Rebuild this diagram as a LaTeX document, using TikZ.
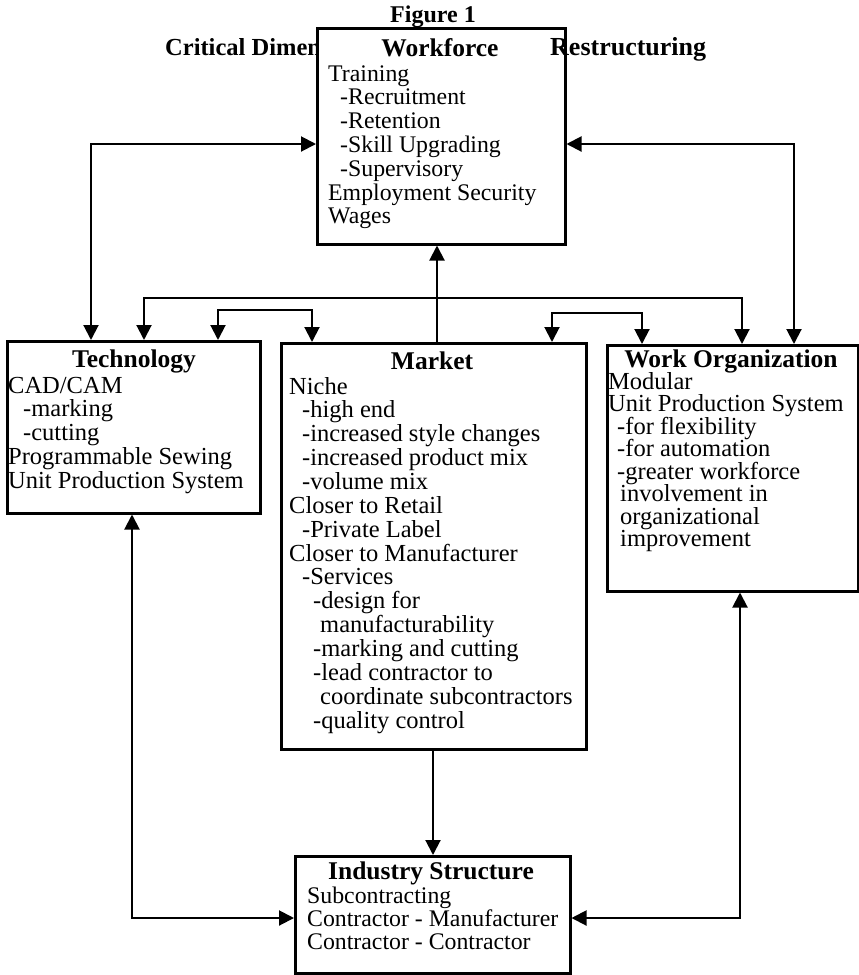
\documentclass[tikz,border=0pt]{standalone}
\usepackage{fontspec}
\setmainfont{Liberation Serif}
\usetikzlibrary{arrows.meta}
\begin{document}
\begin{tikzpicture}[x=1pt,y=-1pt,
  >={Triangle[length=15pt,width=15pt]},
  box/.style={draw, line width=2.5pt, fill=white, rectangle, inner sep=0pt, anchor=north west},
  link/.style={line width=2pt},
  head/.style={font=\fontsize{25.5pt}{26pt}\selectfont\bfseries, inner sep=0pt, anchor=base},
  txt/.style={font=\fontsize{24.5pt}{24pt}\selectfont, inner sep=0pt, anchor=base west},
  stxt/.style={font=\fontsize{23.8pt}{24pt}\selectfont, inner sep=0pt, anchor=base west},
  ttl/.style={font=\fontsize{26pt}{27pt}\selectfont\bfseries, inner sep=0pt}
]
\useasboundingbox (0,0) rectangle (859,975);

% titles
\node[ttl, font=\fontsize{24pt}{25pt}\selectfont\bfseries, anchor=base] (fig) at (433,22) {Figure 1};
\node[ttl, font=\fontsize{24.5pt}{25pt}\selectfont\bfseries, anchor=base west] (crit) at (165,55) {Critical Dimen};

% boxes
\node[box, minimum width=248pt, minimum height=216pt] (wf) at (316,27) {};
\node[box, minimum width=253pt, minimum height=172pt] (tech) at (6,340) {};
\node[box, minimum width=305pt, minimum height=406pt] (mk) at (280,342) {};
\node[box, minimum width=251pt, minimum height=246pt] (wo) at (606,344) {};
\node[box, minimum width=275pt, minimum height=117pt] (is) at (294,855) {};

\node[ttl, anchor=base west] (restr) at (550,55) {Restructuring};

% connector points
\coordinate (cL) at (91,144);
\coordinate (cR) at (794,144);
\coordinate (h1) at (144,298);
\coordinate (h2) at (742,298);
\coordinate (b1) at (218,310);
\coordinate (b1r) at (312,310);
\coordinate (b2) at (552,313);
\coordinate (b2r) at (642,313);
\coordinate (vt) at (437,300);
\coordinate (vb) at (433,800);
\coordinate (lb) at (132,918);
\coordinate (rb) at (740,918);

\draw[link,<->] (tech.north -| cL) |- (wf.west |- cL);
\draw[link,<->] (wo.north -| cR) |- (wf.east |- cR);
\draw[link,<->] (tech.north -| h1) |- (h2) -- (wo.north -| h2);
\draw[link,<->] (tech.north -| b1) |- (b1r) -- (mk.north -| b1r);
\draw[link,<->] (mk.north -| b2) |- (b2r) -- (wo.north -| b2r);
\draw[link,->] (mk.north -| vt) -- (wf.south -| vt);
\draw[link,->] (mk.south -| vb) -- (is.north -| vb);
\draw[link,<->] (tech.south -| lb) |- (is.west |- lb);
\draw[link,<->] (wo.south -| rb) |- (is.east |- rb);

% Workforce
\node[head] (wfh) at (440,56) {Workforce};
\foreach \x/\t [count=\i] in {328/Training, 340/-Recruitment, 340/-Retention, 340/-Skill Upgrading, 340/-Supervisory, 328/Employment Security, 328/Wages}
  \node[stxt] (wf\i) at (\x, {81+23.8*(\i-1)}) {\t};

% Technology
\node[head] (tch) at (134,367) {Technology};
\foreach \x/\t [count=\i] in {8/{CAD/CAM}, 23/-marking, 23/-cutting, 8/Programmable Sewing, 8/Unit Production System}
  \node[txt] (tc\i) at (\x, {393+23.75*(\i-1)}) {\t};

% Market
\node[head] (mkh) at (432,369) {Market};
\foreach \x/\t [count=\i] in {289/Niche, 302/-high end, 302/-increased style changes, 302/-increased product mix, 302/-volume mix, 289/Closer to Retail, 302/-Private Label, 289/Closer to Manufacturer, 302/-Services, 313/-design for, 320/manufacturability, 313/-marking and cutting, 313/-lead contractor to, 320/coordinate subcontractors, 313/-quality control}
  \node[txt] (mk\i) at (\x, {394+23.86*(\i-1)}) {\t};

% Work Organization
\node[head] (woh) at (731,367) {Work Organization};
\foreach \x/\t [count=\i] in {608/Modular, 608/Unit Production System, 617/-for flexibility, 617/-for automation, 617/-greater workforce, 620/involvement in, 620/organizational, 620/improvement}
  \node[txt] (wo\i) at (\x, {389+22.5*(\i-1)}) {\t};

% Industry Structure
\node[head] (ish) at (431,879) {Industry Structure};
\foreach \x/\t [count=\i] in {307/Subcontracting, 307/Contractor - Manufacturer, 307/Contractor - Contractor}
  \node[stxt] (is\i) at (\x, {903+23*(\i-1)}) {\t};

\end{tikzpicture}
\end{document}
